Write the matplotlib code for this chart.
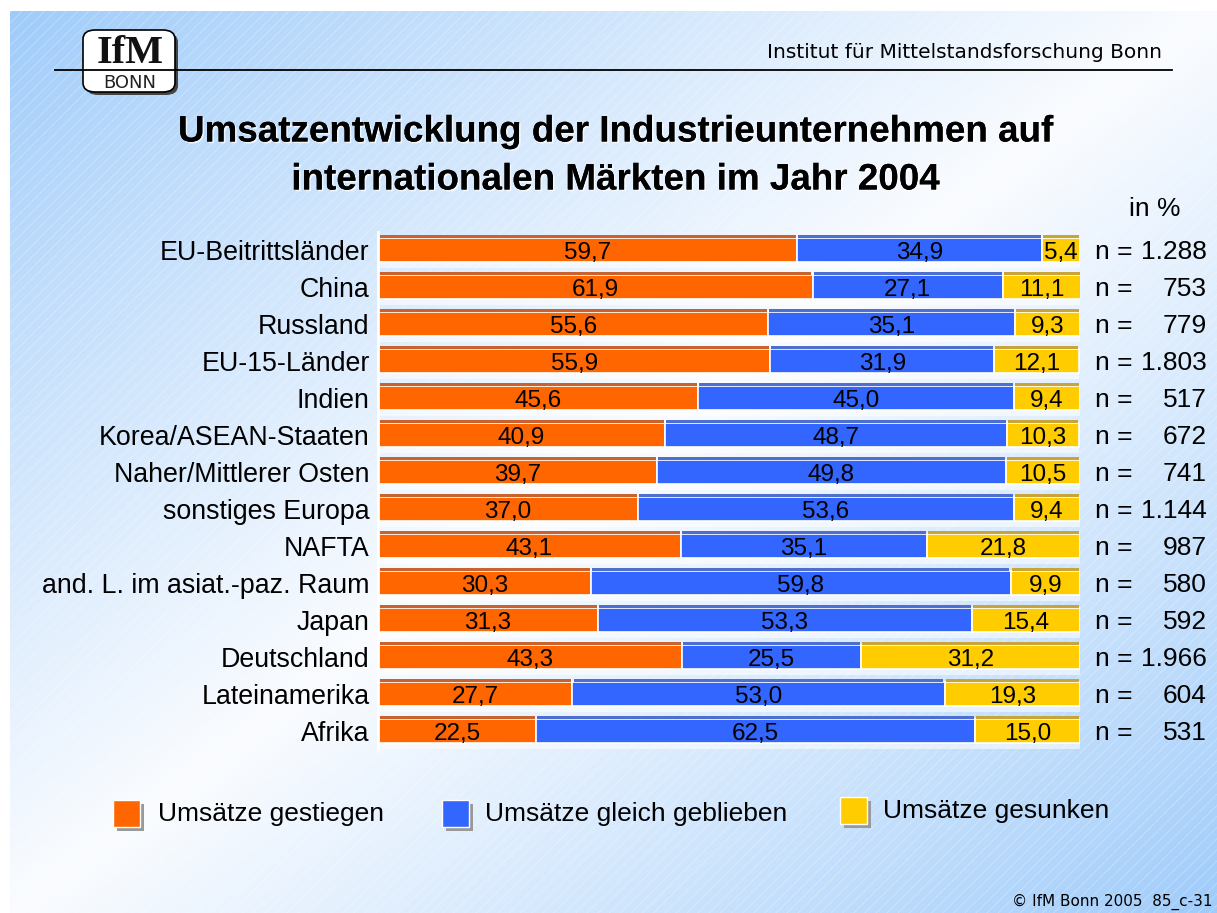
import numpy as np
import matplotlib
matplotlib.use("Agg")
import matplotlib.pyplot as plt
from matplotlib.patches import Rectangle, FancyBboxPatch
from matplotlib import transforms
import matplotlib.patheffects as pe

categories = ["EU-Beitrittsländer", "China", "Russland", "EU-15-Länder", "Indien",
              "Korea/ASEAN-Staaten", "Naher/Mittlerer Osten", "sonstiges Europa", "NAFTA",
              "and. L. im asiat.-paz. Raum", "Japan", "Deutschland", "Lateinamerika", "Afrika"]
gestiegen = [59.7, 61.9, 55.6, 55.9, 45.6, 40.9, 39.7, 37.0, 43.1, 30.3, 31.3, 43.3, 27.7, 22.5]
gleich = [34.9, 27.1, 35.1, 31.9, 45.0, 48.7, 49.8, 53.6, 35.1, 59.8, 53.3, 25.5, 53.0, 62.5]
gesunken = [5.4, 11.1, 9.3, 12.1, 9.4, 10.3, 10.5, 9.4, 21.8, 9.9, 15.4, 31.2, 19.3, 15.0]
n_values = ["1.288", "753", "779", "1.803", "517", "672", "741", "1.144", "987", "580",
            "592", "1.966", "604", "531"]
series_names = ["Umsätze gestiegen", "Umsätze gleich geblieben", "Umsätze gesunken"]
colors = ["#FF6600", "#3366FF", "#FFCC00"]
top_colors = ["#C8622E", "#4F6FD0", "#C8A43A"]

W, H = 1217, 913
plt.rcParams['hatch.linewidth'] = 0.6
fig = plt.figure(figsize=(W / 100, H / 100), dpi=100)
fig.patch.set_facecolor("white")

def fx(px):
    return px / W

def fy(py):
    return 1 - py / H

SANS = "Liberation Sans"

# ---- background gradient ----
bg = fig.add_axes([10 / W, 0, 1 - 10 / W, 1 - 11 / H])
gx = np.linspace(0, 1, 400)
gy = np.linspace(0, 1, 300)
X, Y = np.meshgrid(gx, gy)
t = X + Y
w = np.clip(1 - np.abs(t - 1), 0, 1) ** 0.9
blue = np.array([158, 203, 250]) / 255.0
white = np.array([250, 252, 255]) / 255.0
img = blue[None, None, :] * (1 - w[..., None]) + white[None, None, :] * w[..., None]
bg.imshow(img, aspect="auto", extent=[0, 1, 0, 1], origin="upper", interpolation="bilinear")
bg.add_patch(Rectangle((0, 0), 1, 1, transform=bg.transAxes, facecolor="none",
                       edgecolor=(1, 1, 1, 0.3), hatch="///", lw=0))
bg.set_xlim(0, 1)
bg.set_ylim(0, 1)
bg.axis("off")

# ---- header ----
fig.add_artist(plt.Line2D([fx(55), fx(1172)], [fy(70), fy(70)], color="black", lw=1.3,
                          transform=fig.transFigure))
fig.add_artist(FancyBboxPatch((fx(86), fy(95)), fx(92) - fx(0), fy(33) - fy(95),
                              boxstyle="round,pad=0,rounding_size=0.01",
                              facecolor="#444444", edgecolor="none", transform=fig.transFigure))
fig.add_artist(FancyBboxPatch((fx(83), fy(92)), fx(92) - fx(0), fy(30) - fy(92),
                              boxstyle="round,pad=0,rounding_size=0.01",
                              facecolor="white", edgecolor="black", lw=1.2,
                              transform=fig.transFigure))
fig.text(fx(130), fy(63), "IfM", fontsize=29, family="Liberation Serif", fontweight="bold",
         ha="center", va="baseline", color="#111111")
fig.text(fx(130), fy(88.5), "BONN", fontsize=13, family="DejaVu Sans", ha="center",
         va="baseline", color="#222222")
fig.text(fx(1162), fy(52), "Institut für Mittelstandsforschung Bonn", fontsize=14.5,
         family="DejaVu Sans", ha="right", va="center")

# ---- title ----
title_fx = [pe.withSimplePatchShadow(offset=(1.2, -1.2), shadow_rgbFace="white", alpha=0.7), pe.Normal()]
fig.text(fx(615), fy(132), "Umsatzentwicklung der Industrieunternehmen auf", fontsize=26.5,
         family=SANS, fontweight="bold", ha="center", va="center", path_effects=title_fx)
fig.text(fx(615), fy(180), "internationalen Märkten im Jahr 2004", fontsize=26.5,
         family=SANS, fontweight="bold", ha="center", va="center", path_effects=title_fx)
fig.text(fx(1155), fy(209), "in %", fontsize=19, family=SANS, ha="center", va="center")

# ---- bars ----
ax = fig.add_axes([fx(378), fy(749.5), fx(1080) - fx(378), fy(231.5) - fy(749.5)])
ax.patch.set_alpha(0)
n = len(categories)
ypos = np.arange(n)
h = 0.63
series = [gestiegen, gleich, gesunken]
totals = np.sum(series, axis=0)
# light floor under each bar
ax.barh(ypos + h / 2 + 0.1, totals, height=0.16, color="white", alpha=0.55, lw=0)
left = np.zeros(n)
for vals, col, tcol in zip(series, colors, top_colors):
    vals = np.array(vals)
    ax.barh(ypos, vals, left=left, height=h, color=col, edgecolor="white", lw=1.2)
    ax.barh(ypos - h / 2 - 0.05, vals - 0.3, left=left + 0.15, height=0.06, color=tcol, lw=0)
    for yi, (v, l) in enumerate(zip(vals, left)):
        ax.text(l + v / 2, yi + 0.07, f"{v:.1f}".replace(".", ","), ha="center", va="center",
                fontsize=17.5, family=SANS)
    left = left + vals

ax.set_xlim(0, 100)
ax.set_ylim(n - 0.5, -0.5)
ax.set_xticks([])
ax.set_yticks(ypos)
ax.set_yticklabels(categories, fontsize=19.3, family=SANS)
ax.tick_params(axis="y", length=0, pad=6)
for s in ["top", "right", "bottom"]:
    ax.spines[s].set_visible(False)
ax.spines["left"].set_color("white")
ax.spines["left"].set_linewidth(2)

trans = transforms.blended_transform_factory(fig.transFigure, ax.transData)
for yi, nv in enumerate(n_values):
    ax.text(fx(1095), yi + 0.05, "n =", transform=trans, ha="left", va="center",
            fontsize=19, family=SANS)
    ax.text(fx(1207), yi + 0.05, nv, transform=trans, ha="right", va="center",
            fontsize=19, family=SANS)

# ---- legend ----
leg_pos = [(113, 800, 158), (442, 800, 485), (840, 797, 883)]
for (sx, sy, tx), col, name in zip(leg_pos, colors, series_names):
    fig.add_artist(Rectangle((fx(sx + 4), fy(sy + 31)), fx(27), fy(0) - fy(27),
                             facecolor="#999999", edgecolor="none", transform=fig.transFigure))
    fig.add_artist(Rectangle((fx(sx), fy(sy + 27)), fx(27), fy(0) - fy(27),
                             facecolor=col, edgecolor="white", lw=1, transform=fig.transFigure))
    fig.text(fx(tx), fy(sy + 14), name, fontsize=19, family=SANS, ha="left", va="center")

# ---- footer ----
fig.text(fx(1213), fy(902), "© IfM Bonn 2005  85_c-31", fontsize=11, family="DejaVu Sans",
         ha="right", va="center")

fig.savefig("out.png", dpi=100)
